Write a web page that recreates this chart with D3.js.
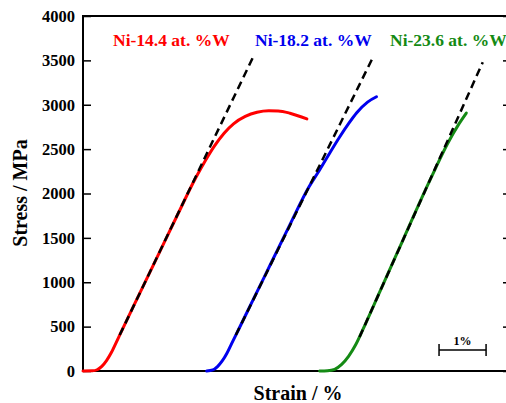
<!DOCTYPE html>
<html>
<head>
<meta charset="utf-8">
<script src="https://d3js.org/d3.v7.min.js"></script>
<style>
body { margin: 0; background: #fff; }
svg { display: block; }
text { font-family: "Liberation Serif", "Times New Roman", serif; font-weight: bold; }
</style>
</head>
<body>
<svg class="chart" width="506" height="403"></svg>
<script>
// strain (%) / stress (MPa)
var redStrain   = [0, 0.2, 0.3, 0.4, 0.5, 0.6, 0.7, 0.8, 1.2, 1.6, 2.0, 2.4, 2.6, 2.8, 3.0, 3.2, 3.45, 3.7, 3.95, 4.15, 4.4, 4.76];
var redStress   = [0, 2, 14, 52, 117, 205, 315, 427, 868, 1309, 1749, 2180, 2370, 2540, 2680, 2785, 2868, 2915, 2932, 2930, 2905, 2840];
var blueStrain  = [2.63, 2.76, 2.86, 2.96, 3.06, 3.16, 3.3, 3.6, 4.0, 4.4, 4.8, 5.03, 5.25, 5.46, 5.65, 5.82, 6.05, 6.24];
var blueStress  = [0, 12, 50, 113, 200, 309, 459, 784, 1217, 1650, 2070, 2265, 2460, 2640, 2790, 2910, 3030, 3090];
var greenStrain = [5.03, 5.2, 5.35, 5.5, 5.65, 5.8, 5.95, 6.3, 6.8, 7.3, 7.5, 7.75, 8.0, 8.15];
var greenStress = [0, 3, 19, 75, 168, 298, 466, 880, 1472, 2064, 2290, 2560, 2790, 2907];

// dashed elastic fits [start, end]
var redFit   = [[0.78, 405], [3.61, 3530]];
var blueFit  = [[3.25, 405], [6.17, 3540]];
var greenFit = [[5.88, 383], [8.5, 3480]];

var labels = ["Ni-14.4 at. %W", "Ni-18.2 at. %W", "Ni-23.6 at. %W"];
var colors = ["#ff0000", "#0000ee", "#148a14"];
var yTicks = [0, 500, 1000, 1500, 2000, 2500, 3000, 3500, 4000];

var svg = d3.select("svg.chart");

var x = d3.scaleLinear().domain([0, 9.1]).range([83, 511]);
var y = d3.scaleLinear().domain([0, 4000]).range([371, 16]);

// frame
svg.append("rect")
    .attr("x", 83).attr("y", 16)
    .attr("width", 428).attr("height", 355)
    .attr("fill", "none").attr("stroke", "#000").attr("stroke-width", 2);

// left axis, ticks inward
var yAxis = svg.append("g")
    .attr("transform", "translate(83,0)")
    .call(d3.axisLeft(y).tickValues(yTicks).tickSize(-8).tickPadding(8).tickFormat(d3.format("d")));
yAxis.select(".domain").remove();
yAxis.selectAll("line").attr("stroke-width", 1.5);
yAxis.selectAll("text")
    .style("font-family", "'Liberation Serif', serif")
    .style("font-weight", "bold")
    .style("font-size", "16.5px")
    .attr("fill", "#000");

// right axis ticks inward
var yAxisR = svg.append("g")
    .attr("transform", "translate(511,0)")
    .call(d3.axisRight(y).tickValues(yTicks).tickSize(-8).tickFormat(""));
yAxisR.select(".domain").remove();
yAxisR.selectAll("line").attr("stroke-width", 1.5);

var line = d3.line()
    .x(function(d) { return x(d[0]); })
    .y(function(d) { return y(d[1]); })
    .curve(d3.curveMonotoneX);

var series = [
    d3.zip(redStrain, redStress),
    d3.zip(blueStrain, blueStress),
    d3.zip(greenStrain, greenStress)
];

series.forEach(function(s, i) {
    svg.append("path")
        .attr("d", line(s))
        .attr("fill", "none")
        .attr("stroke", colors[i])
        .attr("stroke-width", 3)
        .attr("stroke-linecap", "round");
});

[redFit, blueFit, greenFit].forEach(function(f) {
    svg.append("path")
        .attr("d", d3.line().x(function(d) { return x(d[0]); }).y(function(d) { return y(d[1]); })(f))
        .attr("fill", "none")
        .attr("stroke", "#000")
        .attr("stroke-width", 2.5)
        .attr("stroke-dasharray", "8,5");
});

// legend labels
var labelX = [113, 255, 390];
labels.forEach(function(t, i) {
    svg.append("text")
        .attr("x", labelX[i]).attr("y", 46)
        .attr("fill", colors[i])
        .style("font-size", "17.5px")
        .text(t);
});

// scale bar: 1 % strain
var barStart = 7.57;
var bar = svg.append("g").attr("stroke", "#000").attr("stroke-width", 1.5);
bar.append("line").attr("x1", x(barStart)).attr("x2", x(barStart + 1)).attr("y1", 350).attr("y2", 350);
bar.append("line").attr("x1", x(barStart)).attr("x2", x(barStart)).attr("y1", 344).attr("y2", 356);
bar.append("line").attr("x1", x(barStart + 1)).attr("x2", x(barStart + 1)).attr("y1", 344).attr("y2", 356);
svg.append("text")
    .attr("x", x(barStart + 0.5)).attr("y", 345)
    .attr("text-anchor", "middle")
    .style("font-size", "12px")
    .text("1%");

// axis titles
svg.append("text")
    .attr("x", 298).attr("y", 400)
    .attr("text-anchor", "middle")
    .style("font-size", "20px")
    .text("Strain / %");

svg.append("text")
    .attr("transform", "translate(27,193) rotate(-90)")
    .attr("text-anchor", "middle")
    .style("font-size", "20px")
    .text("Stress / MPa");
</script>
</body>
</html>
